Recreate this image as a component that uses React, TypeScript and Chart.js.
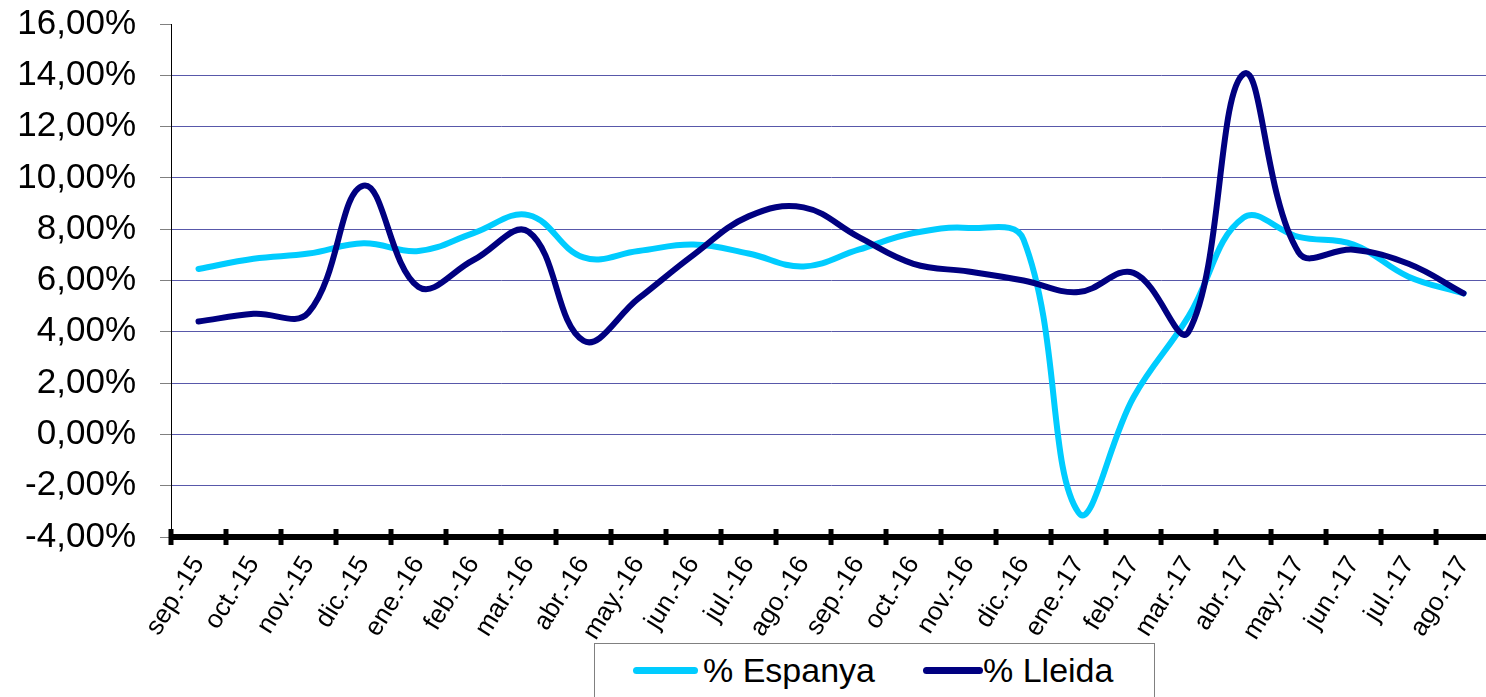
import React, { useEffect, useRef } from 'react';
import { Chart, registerables } from 'chart.js';

Chart.register(...registerables);

const categories = [
  'sep.-15', 'oct.-15', 'nov.-15', 'dic.-15', 'ene.-16', 'feb.-16', 'mar.-16', 'abr.-16',
  'may.-16', 'jun.-16', 'jul.-16', 'ago.-16', 'sep.-16', 'oct.-16', 'nov.-16', 'dic.-16',
  'ene.-17', 'feb.-17', 'mar.-17', 'abr.-17', 'may.-17', 'jun.-17', 'jul.-17', 'ago.-17',
];
const espanya = [6.45, 6.85, 7.05, 7.45, 7.15, 7.85, 8.55, 6.9, 7.15, 7.4, 7.05, 6.55, 7.2, 7.85, 8.05, 7.6, -3.05, 1.45, 4.6, 8.45, 7.7, 7.4, 6.15, 5.5];
const lleida = [4.4, 4.7, 4.75, 9.7, 5.75, 6.8, 7.9, 3.65, 5.3, 7.0, 8.5, 8.85, 7.7, 6.65, 6.35, 6.0, 5.55, 6.3, 4.0, 14.05, 7.1, 7.2, 6.65, 5.5];
const seriesNames = ['% Espanya', '% Lleida'];
const seriesColors = ['#00CCFF', '#000080'];
const yMin = -4;
const yMax = 16;
const yStep = 2;

const FONT = '"Liberation Sans", Arial, sans-serif';

const xAxisPlugin = {
  id: 'xAxisPlugin',
  afterDraw(chart: any) {
    const xs = chart.scales.x;
    const { ctx, chartArea } = chart;
    ctx.save();
    ctx.strokeStyle = '#000';
    ctx.lineWidth = 6;
    ctx.beginPath();
    ctx.moveTo(chartArea.left, chartArea.bottom);
    ctx.lineTo(chartArea.right, chartArea.bottom);
    ctx.stroke();
    ctx.lineWidth = 5;
    for (let i = 0; i <= categories.length; i++) {
      const px = xs.getPixelForValue(i - 0.5);
      ctx.beginPath();
      ctx.moveTo(px, chartArea.bottom - 8);
      ctx.lineTo(px, chartArea.bottom + 8);
      ctx.stroke();
    }
    ctx.restore();
  },
};

export default function App() {
  const ref = useRef<HTMLCanvasElement>(null);
  useEffect(() => {
    if (!ref.current) return;
    const chart = new Chart(ref.current, {
      type: 'line',
      data: {
        labels: categories,
        datasets: [
          {
            label: seriesNames[0],
            data: espanya,
            borderColor: seriesColors[0],
            backgroundColor: seriesColors[0],
            borderWidth: 6,
            pointRadius: 0,
            tension: 0.4,
            borderCapStyle: 'round',
            borderJoinStyle: 'round',
            order: 1,
          },
          {
            label: seriesNames[1],
            data: lleida,
            borderColor: seriesColors[1],
            backgroundColor: seriesColors[1],
            borderWidth: 6,
            pointRadius: 0,
            tension: 0.4,
            borderCapStyle: 'round',
            borderJoinStyle: 'round',
            order: 0,
          },
        ],
      },
      options: {
        animation: false,
        responsive: false,
        devicePixelRatio: 1,
        layout: { padding: { top: 24, left: 0, right: 0, bottom: 0 } },
        plugins: { legend: { display: false }, tooltip: { enabled: false } },
        scales: {
          x: {
            type: 'category',
            offset: true,
            grid: { display: false },
            border: { display: false },
            ticks: {
              autoSkip: false,
              minRotation: 58,
              maxRotation: 58,
              padding: 6,
              color: '#000',
              font: { family: FONT, size: 26 },
            },
            afterFit: (s: any) => { s.height = 160; },
          },
          y: {
            min: yMin,
            max: yMax,
            ticks: {
              stepSize: yStep,
              color: '#000',
              padding: 24,
              font: { family: FONT, size: 35 },
              callback: (v: any) => Number(v).toFixed(2).replace('.', ',') + '%',
            },
            grid: {
              color: (c: any) => (c.tick && (c.tick.value === yMax || c.tick.value === yMin) ? 'rgba(0,0,0,0)' : '#5858AA'),
              tickColor: '#808080',
              tickLength: 11,
              lineWidth: 1,
            },
            border: { display: true, color: '#000', width: 1 },
            afterFit: (s: any) => { s.width = 171; s.paddingTop = 0; s.paddingBottom = 0; },
          },
        },
      },
      plugins: [xAxisPlugin],
    });
    return () => chart.destroy();
  }, []);

  const legendText: React.CSSProperties = {
    position: 'absolute',
    top: 9,
    fontFamily: FONT,
    fontSize: 34,
    lineHeight: '34px',
    color: '#000',
    whiteSpace: 'nowrap',
  };
  const sample = (left: number, width: number, color: string): React.CSSProperties => ({
    position: 'absolute',
    left,
    top: 23,
    width,
    height: 7,
    borderRadius: 4,
    background: color,
  });

  return (
    <div style={{ position: 'fixed', left: 0, top: 0, width: 1486, height: 697, overflow: 'hidden', background: '#fff' }}>
      <canvas ref={ref} width={1496} height={697} style={{ width: 1496, height: 697, display: 'block' }} />
      <div style={{ position: 'absolute', left: 594, top: 643, width: 561, height: 80, border: '1px solid #808080', background: '#fff', boxSizing: 'border-box' }}>
        <div style={sample(38, 65, seriesColors[0])} />
        <span style={{ ...legendText, left: 108 }}>{seriesNames[0]}</span>
        <div style={sample(328, 60, seriesColors[1])} />
        <span style={{ ...legendText, left: 388 }}>{seriesNames[1]}</span>
      </div>
    </div>
  );
}
